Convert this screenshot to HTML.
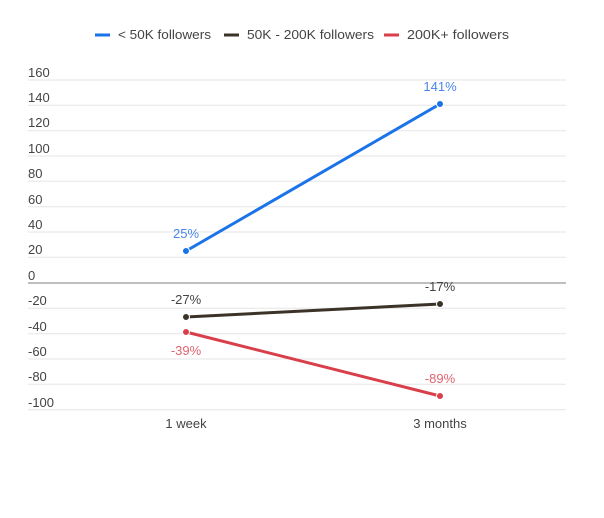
<!DOCTYPE html>
<html><head><style>body{margin:0;background:#fff}</style></head><body>
<svg width="604" height="513" xmlns="http://www.w3.org/2000/svg" font-family="Liberation Sans, sans-serif">
<g font-size="13" fill="#444">
<line x1="95" y1="35" x2="110" y2="35" stroke="#1a73e8" stroke-width="3"/>
<text x="118" y="39" textLength="93" lengthAdjust="spacingAndGlyphs">&lt; 50K followers</text>
<line x1="224" y1="35" x2="239" y2="35" stroke="#3b3328" stroke-width="3"/>
<text x="247" y="39" textLength="127" lengthAdjust="spacingAndGlyphs">50K - 200K followers</text>
<line x1="384" y1="35" x2="399" y2="35" stroke="#d93e4b" stroke-width="3"/>
<text x="407" y="39" textLength="102" lengthAdjust="spacingAndGlyphs">200K+ followers</text>
</g>
<g stroke="#e6e6e6" stroke-width="1">
<line x1="28" x2="566" y1="80" y2="80"/><line x1="28" x2="566" y1="105.3" y2="105.3"/>
<line x1="28" x2="566" y1="130.7" y2="130.7"/><line x1="28" x2="566" y1="156" y2="156"/>
<line x1="28" x2="566" y1="181.3" y2="181.3"/><line x1="28" x2="566" y1="206.7" y2="206.7"/>
<line x1="28" x2="566" y1="232" y2="232"/><line x1="28" x2="566" y1="257.3" y2="257.3"/>
<line x1="28" x2="566" y1="308.3" y2="308.3"/><line x1="28" x2="566" y1="333.7" y2="333.7"/>
<line x1="28" x2="566" y1="359" y2="359"/><line x1="28" x2="566" y1="384.3" y2="384.3"/>
<line x1="28" x2="566" y1="409.7" y2="409.7"/>
</g>
<line x1="28" x2="566" y1="283" y2="283" stroke="#999" stroke-width="1.2"/>
<g font-size="13" fill="#444">
<text x="28" y="77">160</text><text x="28" y="102">140</text><text x="28" y="127">120</text>
<text x="28" y="153">100</text><text x="28" y="178">80</text><text x="28" y="204">60</text>
<text x="28" y="229">40</text><text x="28" y="254">20</text><text x="28" y="280">0</text>
<text x="28" y="305">-20</text><text x="28" y="331">-40</text><text x="28" y="356">-60</text>
<text x="28" y="381">-80</text><text x="28" y="407">-100</text>
<text x="186" y="428" text-anchor="middle">1 week</text>
<text x="440" y="428" text-anchor="middle">3 months</text>
</g>
<polyline points="186,251 440,104" stroke="#1a73e8" stroke-width="3" fill="none"/>
<polyline points="186,317 440,304" stroke="#3b3328" stroke-width="3" fill="none"/>
<polyline points="186,332 440,396" stroke="#d93e4b" stroke-width="3" fill="none"/>
<g stroke="#fff" stroke-width="1">
<circle cx="186" cy="251" r="3.5" fill="#1a73e8"/><circle cx="440" cy="104" r="3.5" fill="#1a73e8"/>
<circle cx="186" cy="317" r="3.5" fill="#3b3328"/><circle cx="440" cy="304" r="3.5" fill="#3b3328"/>
<circle cx="186" cy="332" r="3.5" fill="#d93e4b"/><circle cx="440" cy="396" r="3.5" fill="#d93e4b"/>
</g>
<g font-size="13" text-anchor="middle">
<text x="186" y="238" fill="#4a86e8">25%</text>
<text x="440" y="91" fill="#4a86e8">141%</text>
<text x="186" y="304" fill="#444">-27%</text>
<text x="440" y="291" fill="#444">-17%</text>
<text x="186" y="355" fill="#e06470">-39%</text>
<text x="440" y="383" fill="#e06470">-89%</text>
</g>
</svg>
</body></html>
